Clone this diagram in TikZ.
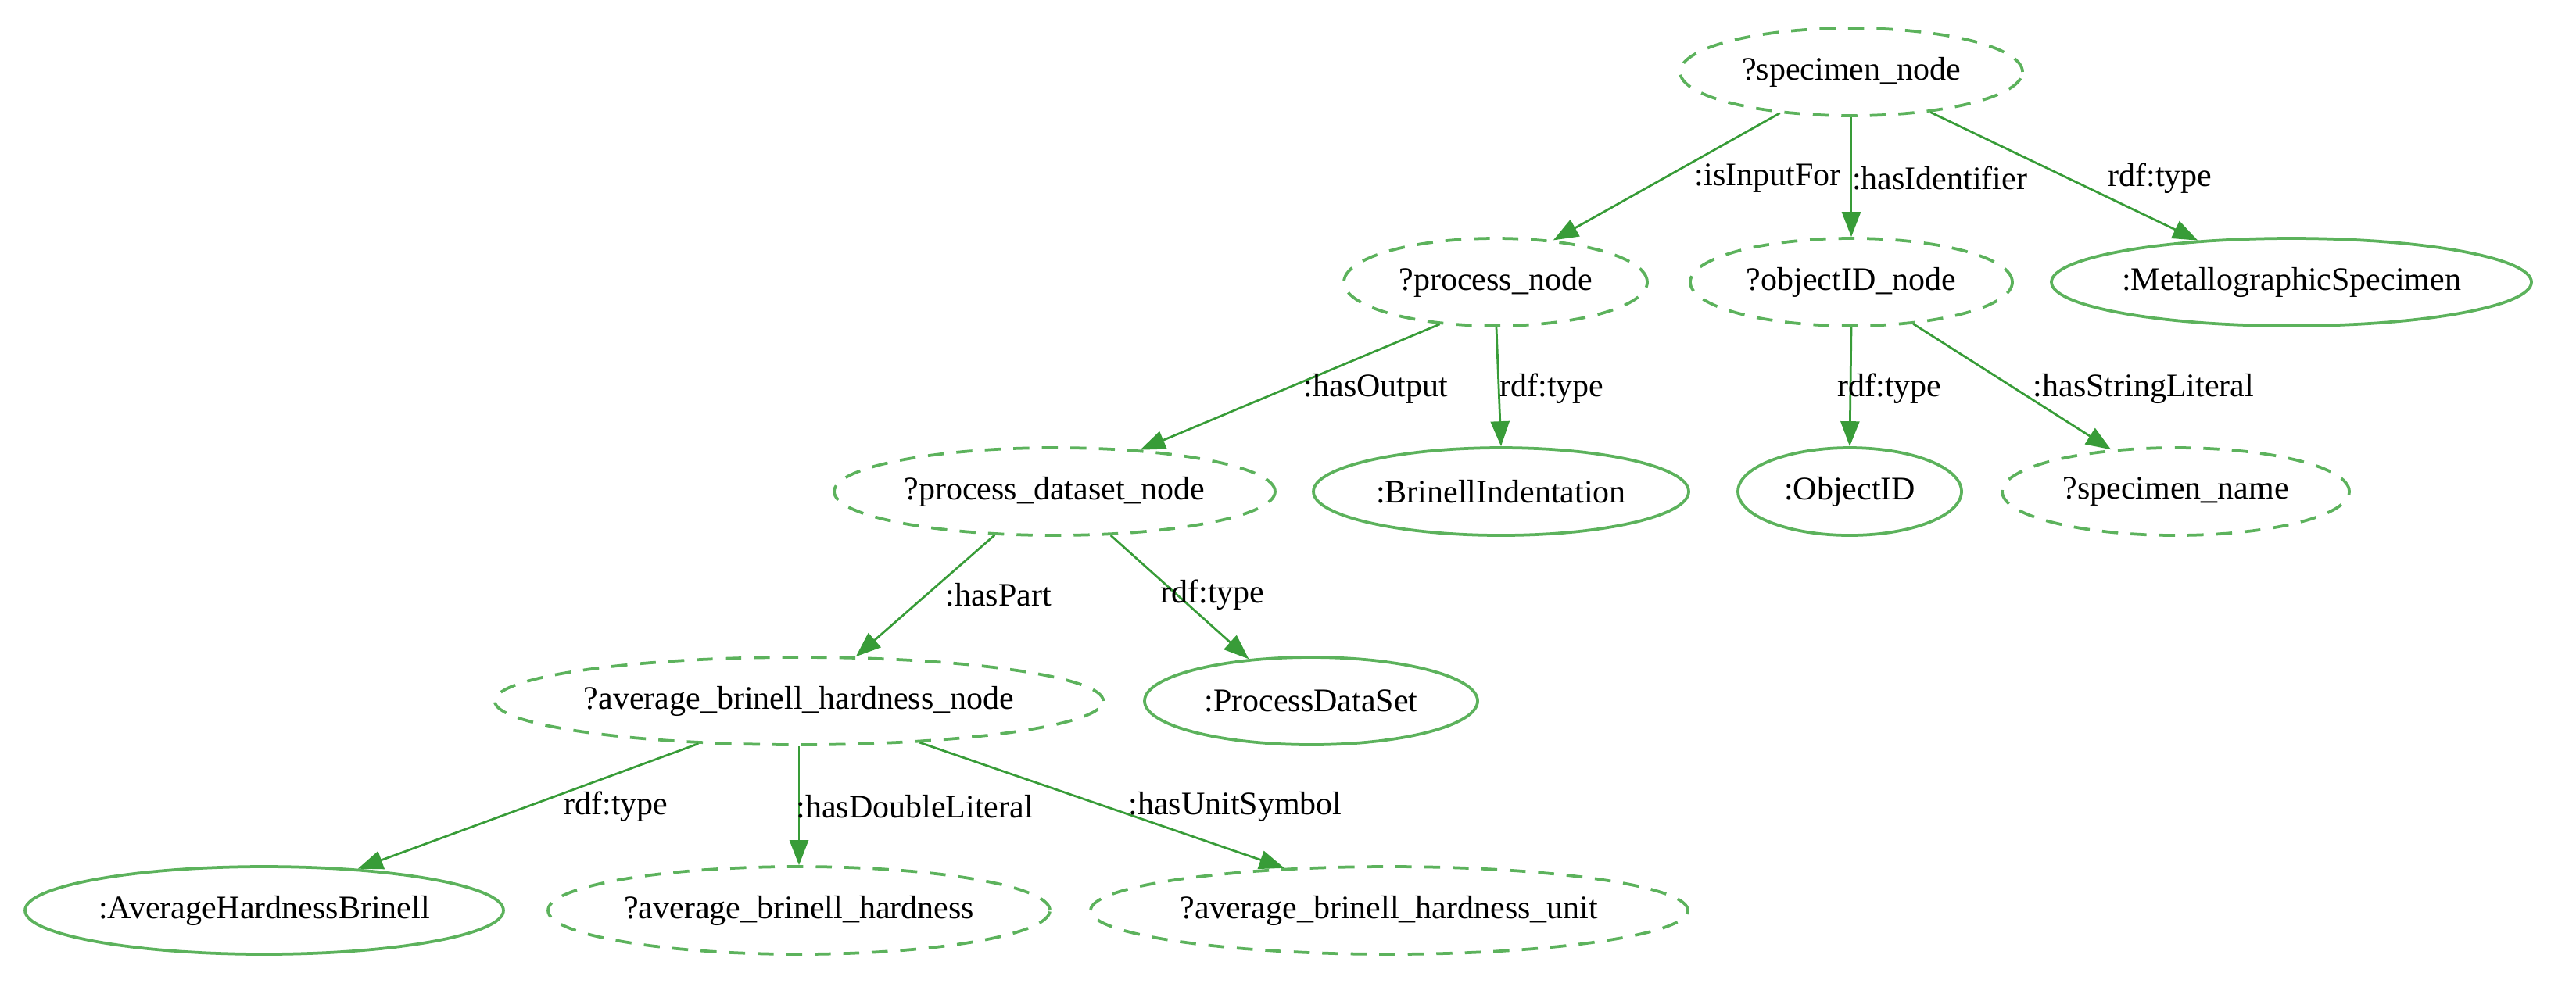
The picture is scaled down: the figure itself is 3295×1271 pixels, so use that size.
\documentclass[tikz,border=0pt]{standalone}
\usepackage{fontspec}
\setmainfont{Liberation Serif}
\usetikzlibrary{shapes.geometric,arrows.meta}
\definecolor{nodegreen}{RGB}{92,178,92}
\definecolor{edgegreen}{RGB}{56,156,56}
\begin{document}
\begin{tikzpicture}[x=0.2pt,y=-0.2pt,
  base/.style={ellipse,draw=nodegreen,line width=0.75pt,inner sep=0pt,minimum height=22.4pt,font=\fontsize{8.4}{10}\selectfont,text=black},
  var/.style={base,dash pattern=on 4.1pt off 3.2pt},
  cls/.style={base},
  edge/.style={draw=edgegreen,line width=0.55pt,-{Triangle[length=6.4pt,width=4.8pt]}},
  lbl/.style={font=\fontsize{8.4}{10}\selectfont,inner sep=0pt,text=black}]
\useasboundingbox (0,0) rectangle (3295,1271);
% nodes
\node[var,minimum width=87.6pt]  (spec)     at (2368,92)  {?specimen\_node};
\node[var,minimum width=77.6pt]  (proc)     at (1913,361) {?process\_node};
\node[var,minimum width=82.4pt]  (objid)    at (2368,361) {?objectID\_node};
\node[cls,minimum width=122.8pt] (metal)    at (2931,361) {:MetallographicSpecimen};
\node[var,minimum width=112.8pt] (dataset)  at (1349,629) {?process\_dataset\_node};
\node[cls,minimum width=96pt]    (brinell)  at (1920,629) {:BrinellIndentation};
\node[cls,minimum width=57.2pt]  (objID)    at (2366,629) {:ObjectID};
\node[var,minimum width=88.8pt]  (specname) at (2783,629) {?specimen\_name};
\node[var,minimum width=154.8pt] (avgnode)  at (1022,897) {?average\_brinell\_hardness\_node};
\node[cls,minimum width=85.2pt]  (pds)      at (1677,897) {:ProcessDataSet};
\node[cls,minimum width=122.4pt] (ahb)      at (338,1165) {:AverageHardnessBrinell};
\node[var,minimum width=128.4pt] (abh)      at (1022,1165) {?average\_brinell\_hardness};
\node[var,minimum width=152.8pt] (abhu)     at (1777,1165) {?average\_brinell\_hardness\_unit};
% edges
\draw[edge] (spec.210) -- (proc.36);
\draw[edge] (spec.south) -- (objid.north);
\draw[edge] (spec.-27) -- (metal.156);
\draw[edge] (proc.217) -- (dataset.26);
\draw[edge] (proc.-89) -- (brinell.90);
\draw[edge] (objid.south) -- (objID.north);
\draw[edge] (objid.-34) -- (specname.147);
\draw[edge] (dataset.216) -- (avgnode.38);
\draw[edge] (dataset.-38) -- (pds.146);
\draw[edge] (avgnode.203) -- (ahb.24);
\draw[edge] (avgnode.south) -- (abh.north);
\draw[edge] (avgnode.-19) -- (abhu.158);
% labels
\node[lbl] (l1)  at (2261,228)  {:isInputFor};
\node[lbl] (l2)  at (2481,228)  {:hasIdentifier};
\node[lbl] (l3)  at (2763,228)  {rdf:type};
\node[lbl] (l4)  at (1760,497)  {:hasOutput};
\node[lbl] (l5)  at (1985,497)  {rdf:type};
\node[lbl] (l6)  at (2417,497)  {rdf:type};
\node[lbl] (l7)  at (2742,497)  {:hasStringLiteral};
\node[lbl] (l8)  at (1277,761)  {:hasPart};
\node[lbl] (l9)  at (1551,761)  {rdf:type};
\node[lbl] (l10) at (788,1032)  {rdf:type};
\node[lbl] (l11) at (1170,1032) {:hasDoubleLiteral};
\node[lbl] (l12) at (1580,1032) {:hasUnitSymbol};
\end{tikzpicture}
\end{document}
